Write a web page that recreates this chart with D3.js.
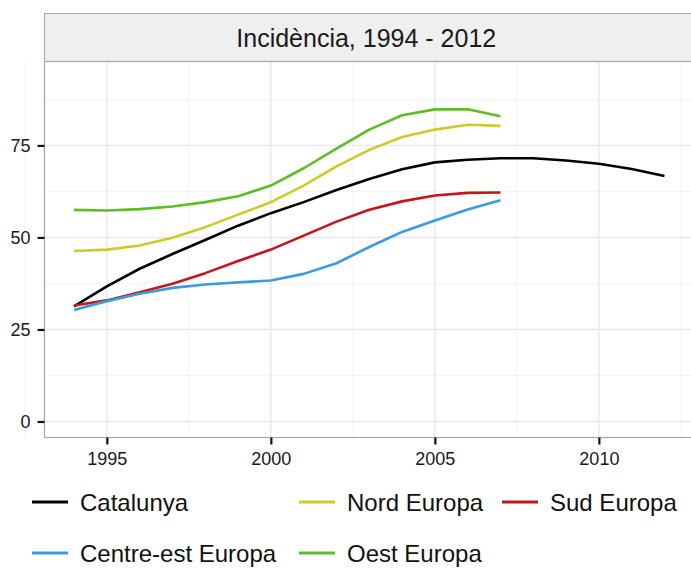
<!DOCTYPE html>
<html>
<head>
<meta charset="utf-8">
<script src="https://cdn.jsdelivr.net/npm/d3@7"></script>
<style>
  html, body { margin: 0; padding: 0; background: #fff; overflow: hidden; }
  svg { display: block; font-family: "Liberation Sans", Arial, Helvetica, sans-serif; }
</style>
</head>
<body>
<svg id="chart" width="691" height="569"></svg>
<script>
const title = "Incidència, 1994 - 2012";
const years = [1994, 1995, 1996, 1997, 1998, 1999, 2000, 2001, 2002, 2003, 2004, 2005, 2006, 2007, 2008, 2009, 2010, 2011, 2012];
const seriesNames = ["Catalunya", "Nord Europa", "Sud Europa", "Centre-est Europa", "Oest Europa"];
const seriesColors = ["#000000", "#cccc29", "#c4161c", "#3b9ae1", "#5cbd24"];
const catalunya = [31.3, 36.7, 41.5, 45.5, 49.3, 53.2, 56.6, 59.6, 62.9, 65.9, 68.5, 70.4, 71.1, 71.5, 71.5, 70.9, 70.0, 68.6, 66.7];
const nordEuropa = [46.3, 46.7, 47.8, 49.9, 52.8, 56.2, 59.6, 64.1, 69.3, 73.8, 77.3, 79.3, 80.6, 80.3];
const sudEuropa = [31.5, 32.9, 35.1, 37.4, 40.3, 43.6, 46.7, 50.5, 54.3, 57.5, 59.8, 61.4, 62.1, 62.2];
const centreEstEuropa = [30.3, 32.7, 34.7, 36.3, 37.2, 37.8, 38.3, 40.1, 43.0, 47.4, 51.5, 54.6, 57.6, 60.1];
const oestEuropa = [57.5, 57.3, 57.7, 58.4, 59.6, 61.2, 64.1, 68.8, 74.1, 79.3, 83.2, 84.8, 84.8, 82.9];
const xTicks = [1995, 2000, 2005, 2010];
const xMinor = [1992.5, 1997.5, 2002.5, 2007.5, 2012.5];
const yTicks = [0, 25, 50, 75];
const yMinor = [12.5, 37.5, 62.5, 87.5];

const seriesValues = [catalunya, nordEuropa, sudEuropa, centreEstEuropa, oestEuropa];
const series = seriesNames.map((name, i) => ({
  name, color: seriesColors[i],
  points: seriesValues[i].map((v, j) => ({ x: years[j], y: v }))
}));

const svg = d3.select("#chart");
const panel = { left: 44.5, right: 694, top: 61.5, bottom: 437.5 };
const strip = { top: 13.5, bottom: 61.5 };

const x = d3.scaleLinear().domain([1993.1, 2012.9]).range([panel.left, panel.right]);
const y = d3.scaleLinear().domain([-4.35, 97.8]).range([panel.bottom, panel.top]);

// strip
svg.append("rect")
  .attr("x", panel.left).attr("y", strip.top)
  .attr("width", panel.right - panel.left).attr("height", strip.bottom - strip.top)
  .attr("fill", "#efefef").attr("stroke", "#a6a6a6").attr("stroke-width", 1);
svg.append("text")
  .attr("x", (panel.left + panel.right) / 2 - 3).attr("y", (strip.top + strip.bottom) / 2)
  .attr("text-anchor", "middle").attr("dominant-baseline", "central")
  .attr("font-size", 25).attr("fill", "#1a1a1a").text(title);

// panel background
svg.append("rect")
  .attr("x", panel.left).attr("y", panel.top)
  .attr("width", panel.right - panel.left).attr("height", panel.bottom - panel.top)
  .attr("fill", "#fff");

const grid = svg.append("g");
grid.selectAll(".ymin").data(yMinor).join("line")
  .attr("x1", panel.left).attr("x2", panel.right)
  .attr("y1", d => y(d)).attr("y2", d => y(d))
  .attr("stroke", "#f5f5f5").attr("stroke-width", 1);
grid.selectAll(".xmin").data(xMinor).join("line")
  .attr("y1", panel.top).attr("y2", panel.bottom)
  .attr("x1", d => x(d)).attr("x2", d => x(d))
  .attr("stroke", "#f5f5f5").attr("stroke-width", 1);
grid.selectAll(".ymaj").data(yTicks).join("line")
  .attr("x1", panel.left).attr("x2", panel.right)
  .attr("y1", d => y(d)).attr("y2", d => y(d))
  .attr("stroke", "#e8e8e8").attr("stroke-width", 1.4);
grid.selectAll(".xmaj").data(xTicks).join("line")
  .attr("y1", panel.top).attr("y2", panel.bottom)
  .attr("x1", d => x(d)).attr("x2", d => x(d))
  .attr("stroke", "#e8e8e8").attr("stroke-width", 1.4);

// lines
const line = d3.line().x(d => x(d.x)).y(d => y(d.y));
svg.append("g").selectAll("path").data(series).join("path")
  .attr("d", d => line(d.points))
  .attr("fill", "none")
  .attr("stroke", d => d.color)
  .attr("stroke-width", 2.6)
  .attr("stroke-linejoin", "round");

// panel border
svg.append("rect")
  .attr("x", panel.left).attr("y", panel.top)
  .attr("width", panel.right - panel.left).attr("height", panel.bottom - panel.top)
  .attr("fill", "none").attr("stroke", "#a6a6a6").attr("stroke-width", 1.2);

// axes
const xAxis = d3.axisBottom(x).tickValues(xTicks).tickFormat(d3.format("d")).tickSize(7).tickPadding(8);
const gx = svg.append("g").attr("transform", `translate(0,${panel.bottom})`).call(xAxis);
gx.select(".domain").remove();
gx.selectAll(".tick line").attr("stroke", "#111").attr("stroke-width", 2.2);
gx.selectAll(".tick text").attr("font-size", 18).attr("fill", "#1a1a1a")
  .attr("font-family", "'Liberation Sans', Arial, sans-serif");

const yAxis = d3.axisLeft(y).tickValues(yTicks).tickFormat(d3.format("d")).tickSize(7).tickPadding(7);
const gy = svg.append("g").attr("transform", `translate(${panel.left},0)`).call(yAxis);
gy.select(".domain").remove();
gy.selectAll(".tick line").attr("stroke", "#111").attr("stroke-width", 2.2);
gy.selectAll(".tick text").attr("font-size", 18).attr("fill", "#1a1a1a")
  .attr("font-family", "'Liberation Sans', Arial, sans-serif");

// legend
const legendPos = [
  { kx: 32, tx: 80, y: 502 },
  { kx: 299, tx: 347, y: 502 },
  { kx: 502, tx: 550, y: 502 },
  { kx: 32, tx: 80, y: 553 },
  { kx: 299, tx: 347, y: 553 }
];
const lg = svg.append("g");
series.forEach((s, i) => {
  const p = legendPos[i];
  lg.append("line")
    .attr("x1", p.kx).attr("x2", p.kx + 36)
    .attr("y1", p.y).attr("y2", p.y)
    .attr("stroke", s.color).attr("stroke-width", 2.8);
  lg.append("text")
    .attr("x", p.tx).attr("y", p.y)
    .attr("dominant-baseline", "central")
    .attr("font-size", 24).attr("fill", "#111")
    .text(s.name);
});
</script>
</body>
</html>
